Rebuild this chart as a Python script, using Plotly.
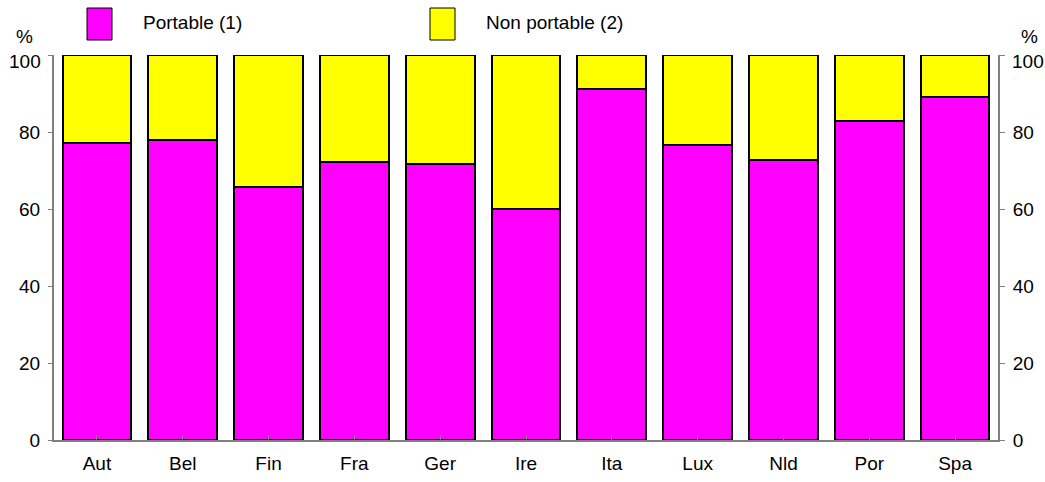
import plotly.graph_objects as go

countries = ["Aut", "Bel", "Fin", "Fra", "Ger", "Ire", "Ita", "Lux", "Nld", "Por", "Spa"]
portable = [77.1, 77.9, 65.8, 72.2, 71.6, 60.1, 91.1, 76.5, 72.8, 82.9, 89.2]
non_portable = [round(100 - p, 1) for p in portable]
y_ticks = [0, 20, 40, 60, 80, 100]

MAGENTA = "#FF00FF"
YELLOW = "#FFFF00"
FONT = "Liberation Sans, Arial, sans-serif"
FS = 19

# plot-area pixel geometry (for placing the hand-drawn legend)
L, R, T, B = 54, 998, 55, 440
PW, PH = R - L, B - T


def px(x):
    return (x - L) / PW


def py(y):
    return (B - y) / PH


# top tick label is drawn separately (it sits slightly below its tick in the reference)
tick_text = [str(v) if v != 100 else "" for v in y_ticks]

fig = go.Figure()
fig.add_trace(go.Bar(x=countries, y=portable, name="Portable (1)",
                     marker=dict(color=MAGENTA, line=dict(color="black", width=2)),
                     showlegend=False))
fig.add_trace(go.Bar(x=countries, y=non_portable, name="Non portable (2)",
                     marker=dict(color=YELLOW, line=dict(color="black", width=2)),
                     showlegend=False))
# invisible trace to activate right axis
fig.add_trace(go.Scatter(x=countries, y=portable, yaxis="y2", mode="markers",
                         marker=dict(opacity=0), hoverinfo="skip", showlegend=False))

fig.update_layout(
    width=1045, height=482,
    margin=dict(l=L, r=1045 - R, t=T, b=482 - B, autoexpand=False),
    barmode="stack", bargap=0.2,
    paper_bgcolor="white", plot_bgcolor="white",
    font=dict(family=FONT, size=FS, color="black"),
    xaxis=dict(range=[-0.5, len(countries) - 0.5], showline=True, linecolor="#808080",
               linewidth=2, ticks="inside", ticklen=5, tickcolor="#808080",
               ticklabelstandoff=5, showgrid=False, zeroline=False,
               automargin=False, tickfont=dict(size=FS)),
    yaxis=dict(range=[0, 100], tickvals=y_ticks, ticktext=tick_text, showline=True,
               linecolor="#808080", linewidth=2, ticks="outside", ticklen=4,
               tickcolor="#808080", ticklabelstandoff=4,
               showgrid=False, zeroline=False, automargin=False, tickfont=dict(size=FS)),
    yaxis2=dict(range=[0, 100], tickvals=y_ticks, ticktext=tick_text, overlaying="y",
                side="right", showline=True, linecolor="#808080", linewidth=2,
                ticks="outside", ticklen=5, tickcolor="#808080", ticklabelstandoff=4,
                showgrid=False, zeroline=False, automargin=False, tickfont=dict(size=FS)),
)

# "100" labels and "%" labels
fig.add_annotation(x=px(43), y=py(61), xref="paper", yref="paper", text=str(y_ticks[-1]),
                   showarrow=False, xanchor="right", yanchor="middle", font=dict(size=FS))
fig.add_annotation(x=px(1010), y=py(61), xref="paper", yref="paper", text=str(y_ticks[-1]),
                   showarrow=False, xanchor="left", yanchor="middle", font=dict(size=FS))
for xpix in (24, 1029):
    fig.add_annotation(x=px(xpix), y=py(37), xref="paper", yref="paper", text="%",
                       showarrow=False, xanchor="center", yanchor="middle",
                       font=dict(size=FS))

# legend drawn manually
legend_items = [("Portable (1)", MAGENTA, 87, 141), ("Non portable (2)", YELLOW, 430, 484)]
for label, color, bx, tx in legend_items:
    fig.add_shape(type="rect", xref="paper", yref="paper",
                  x0=px(bx), x1=px(bx + 25), y0=py(40), y1=py(8),
                  fillcolor=color, line=dict(color="black", width=1))
    fig.add_annotation(x=px(tx), y=py(22), xref="paper", yref="paper",
                       text=label, showarrow=False, xanchor="left", yanchor="middle",
                       font=dict(size=FS))

fig.write_html("out.html", config={"displayModeBar": False},
               post_script="document.body.style.margin='0';")
